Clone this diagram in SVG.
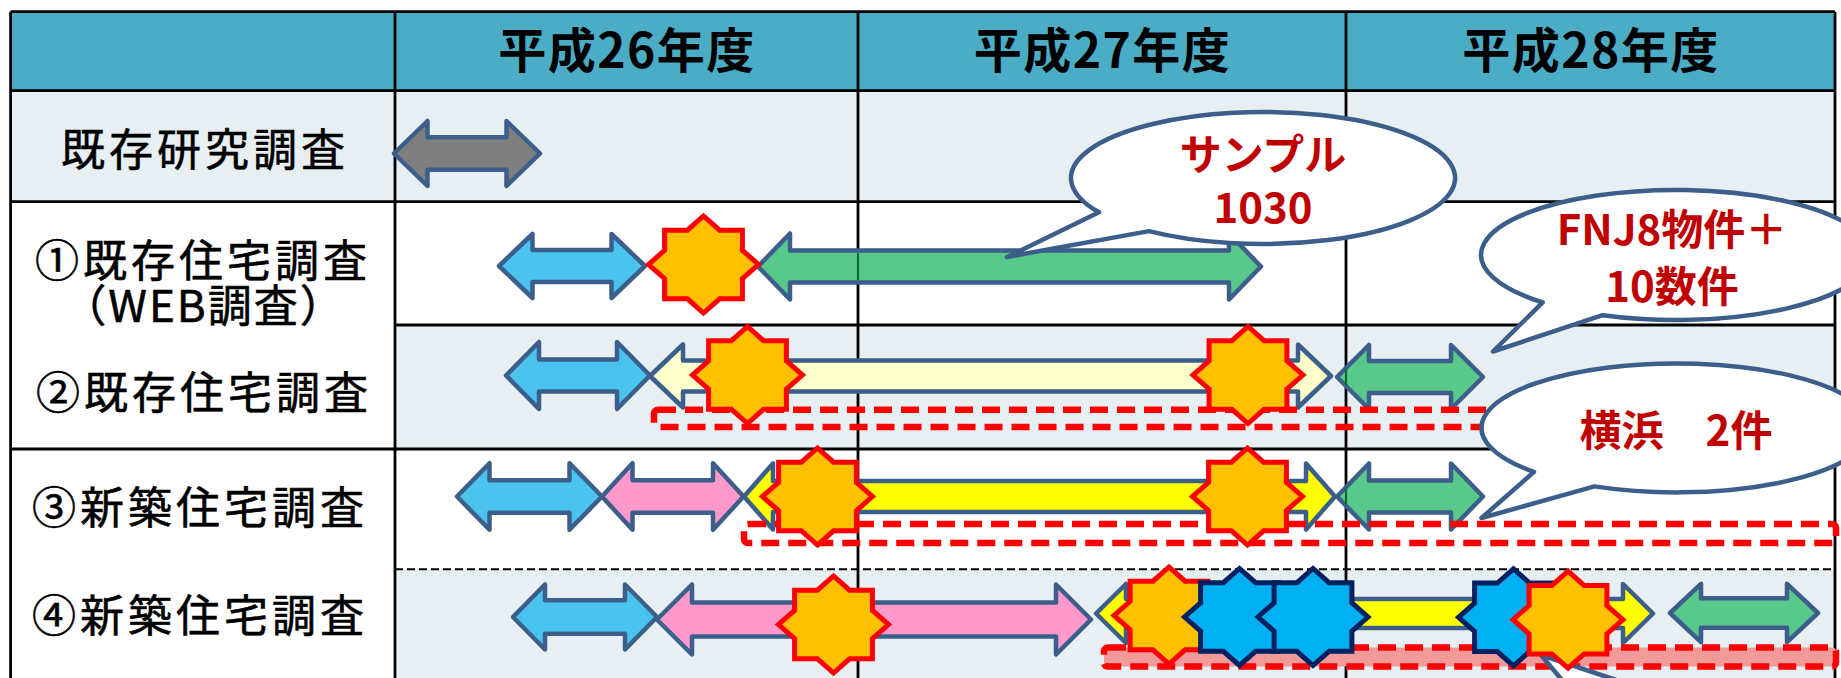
<svg xmlns="http://www.w3.org/2000/svg" xmlns:xlink="http://www.w3.org/1999/xlink" width="1841" height="678" viewBox="0 0 1841 678">
<style>
.ln{stroke:#000;stroke-width:2.8;fill:none}
.dl{stroke:#000;stroke-width:2;stroke-dasharray:8 4;fill:none}
.arr{stroke:#3B5E8B;stroke-width:4.5;stroke-linejoin:round}
.gray{fill:#7F7F7F}.blue{fill:#4AC4EF}.green{fill:#58C88B}.pink{fill:#FF99CC}.lyel{fill:#FFFFCC}.yel{fill:#FFFF00}
.gl{stroke:#0B6B35;stroke-width:2.2;fill:none}
.so{fill:#FFC000;stroke:#FF0000;stroke-width:5}
.sb{fill:#00B0F0;stroke:#002060;stroke-width:5}
.dash{fill:none;stroke:#FF0000;stroke-width:6.5;stroke-dasharray:18 9}
.bub{fill:#fff;stroke:#3B5E8B;stroke-width:4.5;stroke-linejoin:round}
.bt{font-family:"Noto Sans CJK JP","Noto Sans CJK SC",sans-serif;font-weight:bold;fill:#C00000;font-size:42px;text-anchor:middle}
.hd{font-family:"Noto Sans CJK JP","Noto Sans CJK SC",sans-serif;font-weight:bold;font-size:48px;text-anchor:middle;letter-spacing:1.5px;fill:#000}
.lb{font-family:"Noto Sans CJK JP","Noto Sans CJK SC",sans-serif;font-weight:normal;font-size:44px;text-anchor:middle;letter-spacing:4px;fill:#000;stroke:#000;stroke-width:0.6}
</style>
<defs>
<polygon id="st" points="55,0 38.9,14.2 38.9,34.3 16.1,34.3 0,48.5 -16.1,34.3 -38.9,34.3 -38.9,14.2 -55,0 -38.9,-14.2 -38.9,-34.3 -16.1,-34.3 0,-48.5 16.1,-34.3 38.9,-34.3 38.9,-14.2"/>
</defs>
<rect width="1841" height="678" fill="#fff"/>
<g id="table">
<rect x="10.6" y="11.7" width="1824.4" height="79" fill="#4BACC6"/>
<rect x="10.6" y="90.7" width="1824.4" height="111" fill="#E8EFF3"/>
<rect x="395" y="325" width="1440" height="124" fill="#E8EFF3"/>
<rect x="395" y="569.3" width="1440" height="110" fill="#E8EFF3"/>
<path class="ln" d="M10.6,11.7H1835M10.6,90.7H1835M10.6,201.7H1835M395,325H1835M10.6,449H1835M10.6,11.7V678M395,11.7V678M858,11.7V678M1346,11.7V678M1835,11.7V678"/>
<path class="dl" d="M395,569.3H1835"/>
</g>
<g id="headers">
<text class="hd" x="627" y="68">平成26年度</text>
<text class="hd" x="1102.5" y="68">平成27年度</text>
<text class="hd" x="1591" y="68">平成28年度</text>
</g>
<g id="labels">
<text class="lb" x="205" y="166">既存研究調査</text>
<text class="lb" x="203" y="277">①既存住宅調査</text>
<text class="lb" x="204" y="322" style="letter-spacing:2px">（WEB調査）</text>
<text class="lb" x="204" y="408.5">②既存住宅調査</text>
<text class="lb" x="200" y="523.5">③新築住宅調査</text>
<text class="lb" x="200" y="632">④新築住宅調査</text>
</g>
<g id="arrows">
<path class="arr gray" d="M394,153.5 L427.5,121 V137.2 H506.5 V121 L540,153.5 L506.5,186 V169.8 H427.5 V186 Z"/>
<path class="arr blue" d="M499,266 L532.5,234 V250 H611.5 V234 L645,266 L611.5,298 V282 H532.5 V298 Z"/>
<path class="arr green" d="M758,266.5 L790,233.5 V250.5 H1229 V233.5 L1261,266.5 L1229,299.5 V282.5 H790 V299.5 Z"/>
<path class="arr blue" d="M506,375.5 L539,342 V359.5 H617 V342 L650,375.5 L617,409 V391.5 H539 V409 Z"/>
<path class="arr lyel" d="M650,376 L683,344.5 V360.5 H1298 V344.5 L1331,376 L1298,407.5 V391.5 H683 V407.5 Z"/>
<path class="arr green" d="M1337,377 L1369,345 V361 H1451 V345 L1483,377 L1451,409 V393 H1369 V409 Z"/>
<path class="arr blue" d="M457,496.5 L489.5,463.2 V480.2 H569.5 V463.2 L602,496.5 L569.5,529.8 V512.8 H489.5 V529.8 Z"/>
<path class="arr pink" d="M602,496.5 L632.5,463.2 V480.2 H713 V463.2 L743.5,496.5 L713,529.8 V512.8 H632.5 V529.8 Z"/>
<path class="arr yel" d="M744,496.5 L773,463.5 V481 H1306 V463.5 L1335,496.5 L1306,529.5 V512 H773 V529.5 Z"/>
<path class="arr green" d="M1337,496.5 L1369,463.5 V480.5 H1451 V463.5 L1483,496.5 L1451,529.5 V512.5 H1369 V529.5 Z"/>
<path class="arr blue" d="M513,617 L545,584.5 V600.3 H625 V584.5 L657,617 L625,649.5 V633.7 H545 V649.5 Z"/>
<path class="arr pink" d="M657,619.5 L692,584.5 V602.5 H1056 V584.5 L1091,619.5 L1056,654.5 V636.5 H692 V654.5 Z"/>
<path class="arr yel" d="M1096,613.5 L1126,584 V599 H1623 V584 L1653,613.5 L1623,643 V628 H1126 V643 Z"/>
<path class="arr green" d="M1670,613 L1701,583.8 V598.3 H1787 V583.8 L1818,613 L1787,642.2 V627.7 H1701 V642.2 Z"/>
<path class="gl" d="M858,253V280M1346,369V385M1346,488.5V504.5"/>
</g>
<g id="ranges">
<rect class="dash" x="654" y="409.7" width="1182" height="17.3" rx="4"/>
<rect class="dash" x="744" y="524" width="1092" height="19" rx="4"/>
<rect class="dash" x="1104" y="647.5" width="732" height="19" rx="4" style="fill:#F29A9A"/>
</g>
<g id="stars">
<use xlink:href="#st" x="703.5" y="264.5" class="so"/>
<use xlink:href="#st" x="747.5" y="375" class="so"/>
<use xlink:href="#st" x="1248" y="375" class="so"/>
<use xlink:href="#st" x="817.5" y="496.5" class="so"/>
<use xlink:href="#st" x="1247.5" y="496.5" class="so"/>
<use xlink:href="#st" x="833.5" y="624.5" class="so"/>
<path class="bub" d="M1562,680 L1541,655 L1616,680"/>
<use xlink:href="#st" x="1169" y="615.5" class="so"/>
<use xlink:href="#st" x="1239.5" y="617" class="sb"/>
<use xlink:href="#st" x="1313" y="617" class="sb"/>
<use xlink:href="#st" x="1513.5" y="617.3" class="sb"/>
<use xlink:href="#st" x="1568" y="619.7" class="so"/>
</g>
<g id="bubble-sample">
<path class="bub" d="M1099,212.3 L1007,257 L1149,231.1 A192,66 0 1 0 1099,212.3 Z"/>
<text class="bt" x="1263" y="169.5">サンプル</text>
<text class="bt" x="1263" y="223">1030</text>
</g>
<g id="bubble-fnj">
<path class="bub" d="M1542.7,302.4 L1493,351.5 L1602.7,315.2 A195,65 0 1 0 1542.7,302.4 Z"/>
<text class="bt" x="1672" y="245">FNJ8物件＋</text>
<text class="bt" x="1672" y="302">10数件</text>
</g>
<g id="bubble-yokohama">
<path class="bub" d="M1534,471.9 L1481.5,518 L1594.5,486.4 A195,64.5 0 1 0 1534,471.9 Z"/>
<text class="bt" x="1676" y="446">横浜　2件</text>
</g>
</svg>
